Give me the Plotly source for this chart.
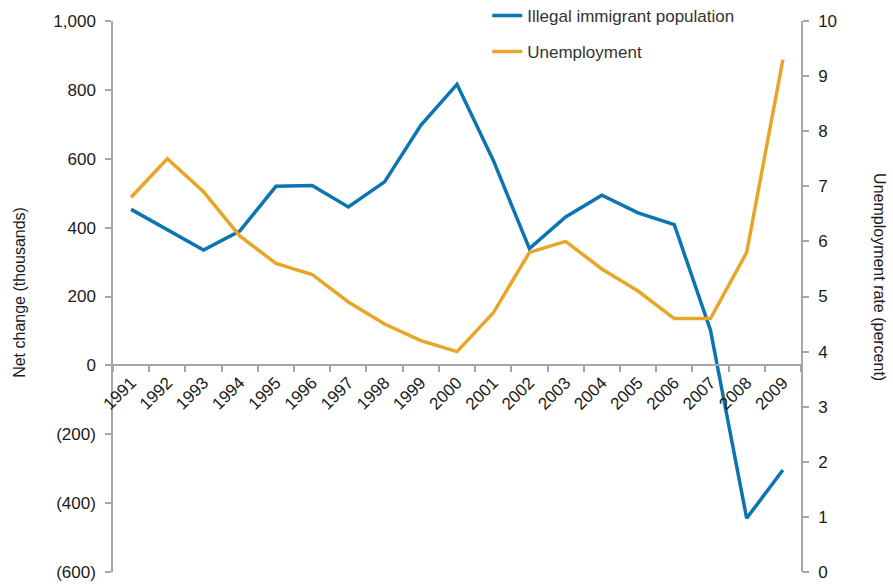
import plotly.graph_objects as go

# Years on the category axis
years = ["1991", "1992", "1993", "1994", "1995", "1996", "1997", "1998", "1999", "2000",
         "2001", "2002", "2003", "2004", "2005", "2006", "2007", "2008", "2009"]

# Net change in the illegal immigrant population (thousands)
immigrant_change = [453, 395, 335, 390, 520, 522, 460, 533, 697, 816,
                    596, 339, 431, 494, 443, 409, 102, -444, -304]

# Unemployment rate (percent)
unemployment = [6.8, 7.5, 6.9, 6.1, 5.6, 5.4, 4.9, 4.5, 4.2, 4.0,
                4.7, 5.8, 6.0, 5.5, 5.1, 4.6, 4.6, 5.8, 9.3]

# Left axis ticks and labels (negatives in parentheses)
left_ticks = [-600, -400, -200, 0, 200, 400, 600, 800, 1000]
left_tick_labels = ["(600)", "(400)", "(200)", "0", "200", "400", "600", "800", "1,000"]

# Right axis ticks
right_ticks = [0, 1, 2, 3, 4, 5, 6, 7, 8, 9, 10]

left_range = [left_ticks[0], left_ticks[-1]]
right_range = [right_ticks[0], right_ticks[-1]]

BLUE = "#0b74b1"
ORANGE = "#e8a628"
AXIS = "#a6a6a6"
TEXT = "#1a1a1a"
FONT = "Liberation Sans, Arial, Helvetica, sans-serif"

fig = go.Figure()

fig.add_trace(go.Scatter(
    x=years, y=immigrant_change, mode="lines",
    name="Illegal immigrant population",
    line=dict(color=BLUE, width=3.5),
    legendgroup="a", yaxis="y",
))
fig.add_trace(go.Scatter(
    x=years, y=unemployment, mode="lines",
    name="Unemployment",
    line=dict(color=ORANGE, width=3.5),
    legendgroup="b", yaxis="y2",
))

# the category axis sits on the zero line of the left scale
zero_pos = (0 - left_range[0]) / (left_range[1] - left_range[0])

fig.update_layout(
    width=893, height=584,
    margin=dict(l=113, r=92, t=21, b=12, autoexpand=False),
    paper_bgcolor="white", plot_bgcolor="white",
    font=dict(family=FONT, size=17, color=TEXT),
    showlegend=True,
    legend=dict(
        x=0.544, y=1.042, xanchor="left", yanchor="top",
        bgcolor="rgba(0,0,0,0)", tracegroupgap=11,
        font=dict(size=17, color="#333333"),
        traceorder="grouped",
    ),
    xaxis=dict(
        type="category", range=[-0.5, len(years) - 0.5],
        anchor="free", position=zero_pos, automargin=False,
        showline=True, linecolor=AXIS, linewidth=1.5,
        ticks="outside", tickson="boundaries", ticklen=6, tickcolor=AXIS, tickwidth=1.5,
        tickangle=-45, tickfont=dict(size=17, color=TEXT),
        showgrid=False, zeroline=False,
    ),
    yaxis=dict(
        range=left_range, tickvals=left_ticks, ticktext=left_tick_labels,
        automargin=False,
        showline=True, linecolor=AXIS, linewidth=1.5,
        ticks="outside", ticklen=6, tickcolor=AXIS, tickwidth=1.5,
        ticklabelstandoff=6,
        showgrid=False, zeroline=False,
        tickfont=dict(size=17, color=TEXT),
    ),
    yaxis2=dict(
        range=right_range, tickvals=right_ticks,
        overlaying="y", side="right", anchor="x", automargin=False,
        showline=True, linecolor=AXIS, linewidth=1.5,
        ticks="outside", ticklen=6, tickcolor=AXIS, tickwidth=1.5,
        ticklabelstandoff=6,
        showgrid=False, zeroline=False,
        tickfont=dict(size=17, color=TEXT),
    ),
    annotations=[
        dict(text="Net change (thousands)", xref="paper", yref="paper",
             x=-0.137, y=0.508, xanchor="center", yanchor="middle",
             textangle=-90, showarrow=False, font=dict(size=16, color=TEXT)),
        dict(text="Unemployment rate (percent)", xref="paper", yref="paper",
             x=1.115, y=0.535, xanchor="center", yanchor="middle",
             textangle=90, showarrow=False, font=dict(size=16, color=TEXT)),
    ],
)

fig.write_html("out.html")
